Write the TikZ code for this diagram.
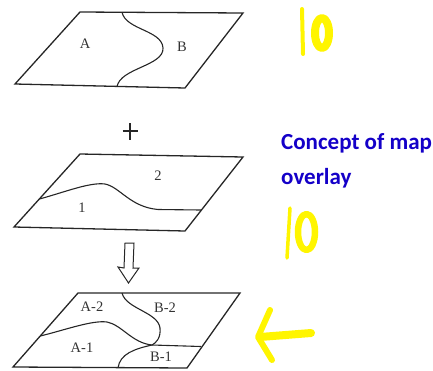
\documentclass[tikz,border=0pt]{standalone}
\usepackage{fontspec}
\setmainfont{Liberation Serif}
\newfontfamily\calib{Carlito}
\begin{document}
\begin{tikzpicture}[x=1pt,y=-1pt,
  mapedge/.style={draw=black!85,line width=1.3pt,line join=miter},
  bound/.style={draw=black!85,line width=1.1pt},
  lab/.style={font=\fontsize{14.5}{14.5}\selectfont,text=black!80,inner sep=0pt},
  hand/.style={draw={rgb,255:red,255;green,245;blue,0},line cap=round,line join=round},
  captext/.style={font=\calib\bfseries\fontsize{23}{35}\selectfont,text={rgb,255:red,20;green,0;blue,200},align=left,inner sep=0pt,anchor=north west}]
\useasboundingbox (0,0) rectangle (433,370);
% top map
\coordinate (t1) at (80,12); \coordinate (t2) at (243,13);
\coordinate (t3) at (185,88); \coordinate (t4) at (15,84);
\draw[mapedge] (t1) -- (t2) -- (t3) -- (t4) -- cycle;
\coordinate (ta) at (122,12.3); \coordinate (tb) at (117,86.8);
\draw[bound] (ta) .. controls (126,30) and (162,30) .. (163,48)
  .. controls (164,66) and (120,68) .. (tb);
\node[lab] (A) at (85,44) {A};
\node[lab] (B) at (182,47) {B};
% plus
\coordinate (p0) at (130,131);
\draw[line width=1.3pt,black!85] (122.5,131) -- (137.5,131) (130,123) -- (130,140);
% middle map
\coordinate (m1) at (80,154); \coordinate (m2) at (243,157);
\coordinate (m3) at (185,231); \coordinate (m4) at (14,227);
\draw[mapedge] (m1) -- (m2) -- (m3) -- (m4) -- cycle;
\coordinate (ma) at (39.5,199); \coordinate (mb) at (201,210);
\draw[bound] (ma) .. controls (65,192) and (90,182) .. (105,184)
  .. controls (120,187) and (130,207) .. (158,209.5) -- (mb);
\node[lab] (n2) at (158,176) {2};
\node[lab] (n1) at (82,208) {1};
% hollow arrow
\draw[line width=1pt,black!85,line join=miter] (125,243) -- (134,243) -- (133,268) -- (139,268)
  -- (128.5,283) -- (118,267) -- (124,268) -- cycle;
% bottom map
\coordinate (b1) at (78,293); \coordinate (b2) at (240,293);
\coordinate (b3) at (187,368); \coordinate (b4) at (13,367);
\draw[mapedge] (b1) -- (b2) -- (b3) -- (b4) -- cycle;
\coordinate (ba) at (40.2,336); \coordinate (bb) at (201,346.5);
\coordinate (bx) at (152,345);
\draw[bound] (ba) .. controls (65,330) and (92,320) .. (107,322)
  .. controls (122,325) and (132,343) .. (bx) -- (bb);
\coordinate (bc) at (122,293); \coordinate (bd) at (118,367.8);
\draw[bound] (bc) .. controls (126,309) and (158,312) .. (160,328)
  .. controls (161,338) and (156,343) .. (bx)
  .. controls (134,349) and (120,354) .. (bd);
\node[lab] (A2) at (92,307) {A-2};
\node[lab] (B2) at (165,308) {B-2};
\node[lab] (A1) at (82,348) {A-1};
\node[lab] (B1) at (161,357) {B-1};
% caption
\node[captext] (captxt) at (281,133) {Concept of map\\overlay};
% yellow handwriting
\draw[hand,line width=4pt] (302,9) -- (303,54);
\draw[hand,line width=8pt] (322,33) ellipse [x radius=7,y radius=15];
\draw[hand,line width=3.5pt] (290,208) -- (287,258);
\draw[hand,line width=6.5pt] (306.5,232) ellipse [x radius=8.5,y radius=18];
\draw[hand,line width=8pt] (311,333) -- (260,337);
\draw[hand,line width=6pt] (270,310) -- (258,337) -- (272,360);
\end{tikzpicture}
\end{document}
